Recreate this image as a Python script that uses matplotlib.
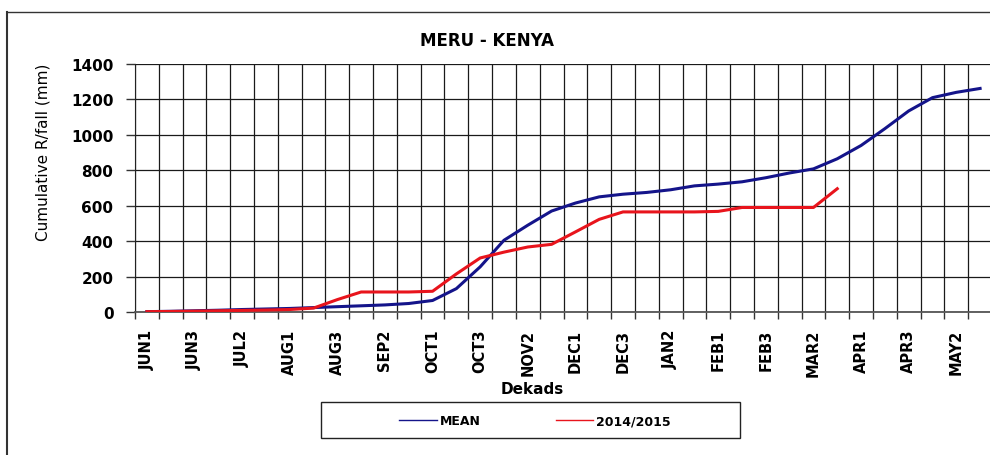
import numpy as np
import matplotlib
matplotlib.use("Agg")
import matplotlib.pyplot as plt
from matplotlib.lines import Line2D
from matplotlib.patches import Rectangle

dekads = ['JUN1', 'JUN2', 'JUN3', 'JUL1', 'JUL2', 'JUL3', 'AUG1', 'AUG2', 'AUG3',
          'SEP1', 'SEP2', 'SEP3', 'OCT1', 'OCT2', 'OCT3', 'NOV1', 'NOV2', 'NOV3',
          'DEC1', 'DEC2', 'DEC3', 'JAN1', 'JAN2', 'JAN3', 'FEB1', 'FEB2', 'FEB3',
          'MAR1', 'MAR2', 'MAR3', 'APR1', 'APR2', 'APR3', 'MAY1', 'MAY2', 'MAY3']

# long term mean cumulative rainfall (mm)
mean = [2, 4, 7, 10, 14, 17, 20, 25, 30, 35, 40, 48, 65, 132, 255, 405, 490, 570,
        615, 650, 665, 675, 690, 712, 722, 735, 758, 785, 808, 865, 940, 1035,
        1135, 1210, 1240, 1262]

# 2014/2015 season, up to MAR3
season = [2, 3, 5, 7, 9, 11, 14, 22, 70, 113, 113, 113, 117, 215, 305, 338, 367,
          382, 452, 523, 565, 565, 565, 565, 568, 590, 590, 590, 590, 696]

yticks = [0, 200, 400, 600, 800, 1000, 1200, 1400]

W, H = 990, 456
fig = plt.figure(figsize=(W / 100, H / 100), dpi=100)
ax = fig.add_axes([135 / W, (H - 313) / H, 857 / W, 248 / H])

x_mean = np.arange(len(mean))
x_season = np.arange(len(season))
ax.plot(x_mean, mean, color='#14148a', lw=2.2, zorder=3)
ax.plot(x_season, season, color='#e8141c', lw=2.2, zorder=4)

ax.set_xlim(-0.5, len(dekads) - 0.5)
ax.set_ylim(0, 1400)

# gridlines sit between categories, labels on every second dekad
ax.set_xticks(np.arange(-0.5, len(dekads), 1))
ax.set_xticklabels([])
ax.set_xticks(np.arange(0, len(dekads), 2), minor=True)
ax.set_xticklabels(dekads[::2], minor=True, rotation=90, fontsize=10.5,
                   fontweight='bold')
ax.tick_params(axis='x', which='major', direction='out', length=5, width=1,
               color='#333333')
ax.tick_params(axis='x', which='minor', length=0, pad=12)

ax.set_yticks(yticks)
ax.set_yticklabels([str(v) for v in yticks], fontsize=11, fontweight='bold')
ax.tick_params(axis='y', direction='out', length=6.5, width=1, pad=9,
               color='#333333')

ax.grid(True, which='major', color='#1a1a1a', lw=0.9)
ax.set_axisbelow(True)
for side in ['top', 'right']:
    ax.spines[side].set_visible(False)
ax.spines['left'].set_color('#222222')
ax.spines['bottom'].set_color('#555555')
ax.spines['bottom'].set_linewidth(1.3)

fig.text(487.5 / W, 1 - 40.5 / H, 'MERU - KENYA', ha='center', va='center',
         fontsize=12, fontweight='bold')
fig.text(43 / W, 1 - 152 / H, 'Cumulative R/fall (mm)', ha='center',
         va='center', rotation=90, fontsize=11)
fig.text(532 / W, 1 - 389 / H, 'Dekads', ha='center', va='center',
         fontsize=11, fontweight='bold')

handles = [Line2D([], [], color='#14148a', lw=1),
           Line2D([], [], color='#e8141c', lw=1)]
fig.legend(handles, ['MEAN', '2014/2015'], loc='center', ncol=2,
           bbox_to_anchor=(535 / W, 1 - 422 / H), frameon=False,
           prop={'size': 9, 'weight': 'bold'}, handlelength=3.0,
           handletextpad=0.25, columnspacing=6.0)
fig.add_artist(Rectangle((321 / W, (H - 439) / H), 419 / W, 36 / H,
                         transform=fig.transFigure, fill=False,
                         ec='#222222', lw=1))

# outer chart border (left and top only)
fig.add_artist(Line2D([6.5 / W, 6.5 / W], [0, 1 - 13 / H],
                      transform=fig.transFigure, color='#333333', lw=1.5))
fig.add_artist(Line2D([6.5 / W, 1], [1 - 13 / H, 1 - 13 / H],
                      transform=fig.transFigure, color='#333333', lw=1))

fig.savefig('out.png', dpi=100)
